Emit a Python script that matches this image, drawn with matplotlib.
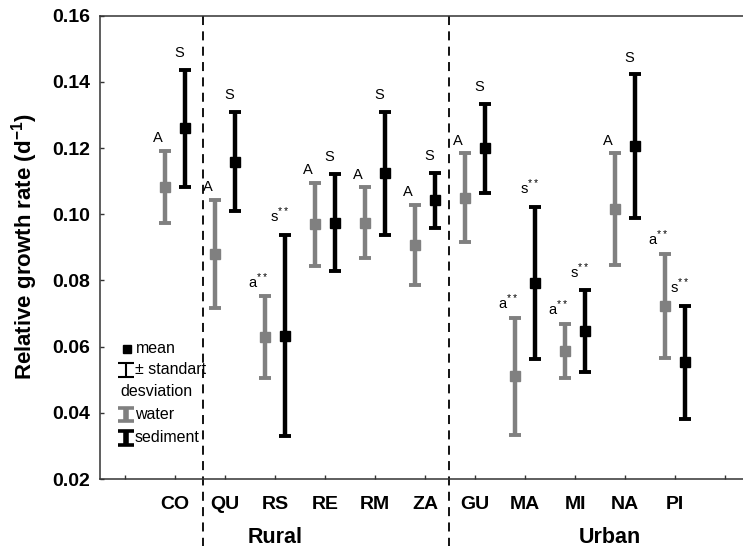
import matplotlib
matplotlib.use('Agg')
import matplotlib.pyplot as plt
import matplotlib.transforms as mtransforms
import numpy as np

plt.rcParams['font.family'] = ['Liberation Sans', 'DejaVu Sans']
plt.rcParams['mathtext.fontset'] = 'custom'
plt.rcParams['mathtext.rm'] = 'Liberation Sans'
plt.rcParams['mathtext.bf'] = 'Liberation Sans:bold'

# sites (CO = control), relative growth rate, mean and sd
sites = ['CO', 'QU', 'RS', 'RE', 'RM', 'ZA', 'GU', 'MA', 'MI', 'NA', 'PI']
water_mean = [0.1083, 0.0880, 0.0628, 0.0970, 0.0975, 0.0907, 0.1050, 0.0511, 0.0587, 0.1015, 0.0723]
water_sd = [0.0109, 0.0164, 0.0124, 0.0125, 0.0106, 0.0121, 0.0134, 0.0177, 0.0082, 0.0169, 0.0157]
sed_mean = [0.1260, 0.1159, 0.0633, 0.0975, 0.1124, 0.1042, 0.1199, 0.0792, 0.0647, 0.1206, 0.0553]
sed_sd = [0.0177, 0.0150, 0.0304, 0.0147, 0.0186, 0.0084, 0.0135, 0.0230, 0.0123, 0.0217, 0.0171]
water_lab = ['A', 'A', 'a$^{**}$', 'A', 'A', 'A', 'A', 'a$^{**}$', 'a$^{**}$', 'A', 'a$^{**}$']
sed_lab = ['S', 'S', 's$^{**}$', 'S', 'S', 'S', 'S', 's$^{**}$', 's$^{**}$', 'S', 's$^{**}$']

GRAY = '#808080'

fig = plt.figure(figsize=(7.43, 5.52), dpi=100)
ax = fig.add_axes([100 / 743, 73 / 552, 643 / 743, 463.3 / 552])

x = np.arange(1, len(sites) + 1)
xw = x - 0.2
xs = x + 0.2

eb_kw = dict(fmt='s', markersize=6.5, elinewidth=3.2, capsize=4.5, capthick=2.8)
ax.errorbar(xw, water_mean, yerr=water_sd, color=GRAY, ecolor=GRAY, **eb_kw)
ax.errorbar(xs, sed_mean, yerr=sed_sd, color='black', ecolor='black', **eb_kw)

for i in range(len(sites)):
    ax.annotate(water_lab[i], (xw[i], water_mean[i] + water_sd[i]), xytext=(-5, 4),
                textcoords='offset points', ha='center', va='bottom', fontsize=10.5)
    ax.annotate(sed_lab[i], (xs[i], sed_mean[i] + sed_sd[i]), xytext=(-4, 7),
                textcoords='offset points', ha='center', va='bottom', fontsize=10.5)

ax.set_ylim(0.02, 0.16)
ax.set_xlim(-0.5, 12.36)
ax.set_yticks(np.arange(0.02, 0.161, 0.02))
ax.set_yticklabels(['%.2f' % v for v in np.arange(0.02, 0.161, 0.02)], fontweight='bold', fontsize=14)
ax.set_xticks(np.arange(0, 13))
ax.set_xticklabels([''] + sites + [''], fontweight='bold', fontsize=14)
ax.tick_params(direction='in', length=3, width=1, color='#333333')
ax.tick_params(axis='x', pad=12)
ax.tick_params(axis='y', pad=7)
ax.spines['right'].set_visible(False)
for s in ['left', 'top', 'bottom']:
    ax.spines[s].set_linewidth(1.1)
    ax.spines[s].set_color('#333333')

# group separators
trans = mtransforms.blended_transform_factory(ax.transData, ax.transAxes)
for xv in [1.56, 6.47]:
    ax.plot([xv, xv], [1.0, -0.145], transform=trans, color='black', lw=1.3,
            dashes=(5, 3.5), clip_on=False)
ax.text(3.0, -0.127, 'Rural', transform=trans, ha='center', va='center',
        fontsize=15.5, fontweight='bold')
ax.text(9.7, -0.127, 'Urban', transform=trans, ha='center', va='center',
        fontsize=15.5, fontweight='bold')

fig.text(25 / 743, 0.553, 'Relative growth rate (d$^{\\mathbf{-1}}$)', rotation=90,
         ha='center', va='center', fontsize=16, fontweight='bold')

# hand-made key
ax.plot([0.03], [0.0593], 's', color='black', markersize=6)
ax.text(0.22, 0.0593, 'mean', va='center', fontsize=11.5)
ax.errorbar([0.02], [0.0530], yerr=[0.0022], fmt='none', ecolor='black', elinewidth=1.5,
            capsize=5.5, capthick=1.5)
ax.text(0.2, 0.0530, '\u00b1 standart', va='center', fontsize=11.5)
ax.text(-0.1, 0.0463, 'desviation', va='center', fontsize=11.5)
ax.errorbar([0.02], [0.0394], yerr=[0.0020], fmt='none', ecolor=GRAY, elinewidth=4,
            capsize=5.5, capthick=2.6)
ax.text(0.2, 0.0394, 'water', va='center', fontsize=11.5)
ax.errorbar([0.02], [0.0324], yerr=[0.0020], fmt='none', ecolor='black', elinewidth=4,
            capsize=5.5, capthick=2.6)
ax.text(0.2, 0.0324, 'sediment', va='center', fontsize=11.5)

fig.savefig('out.png', dpi=100)
